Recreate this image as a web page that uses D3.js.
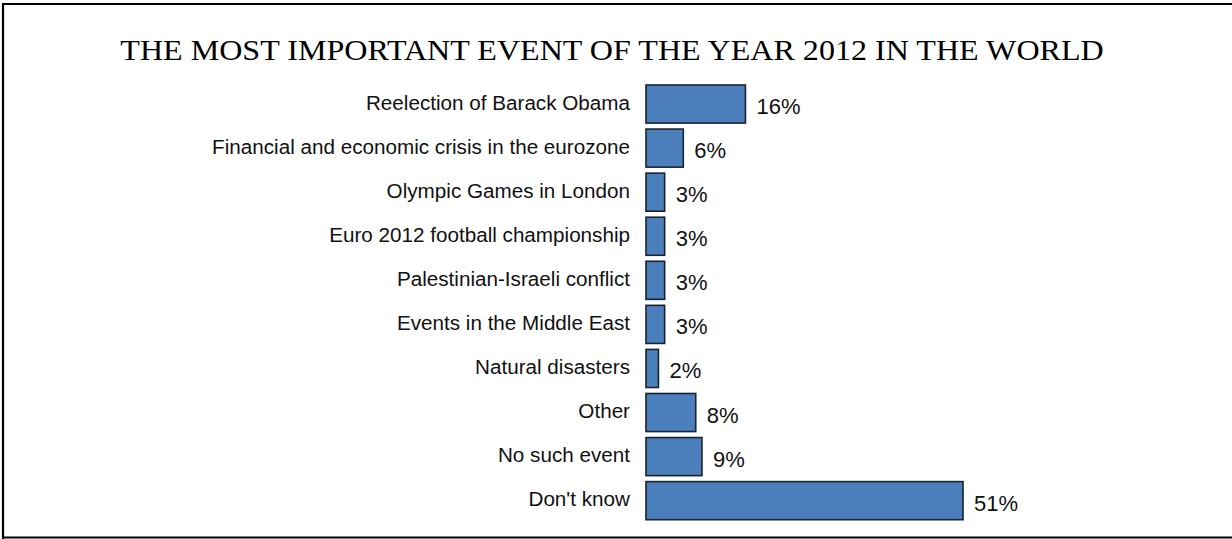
<!DOCTYPE html>
<html><head><meta charset="utf-8">
<script src="https://cdn.jsdelivr.net/npm/d3@7"></script>
<style>body{margin:0;background:#fff;overflow:hidden}svg{display:block}</style>
</head><body>
<script>
const categories = ["Reelection of Barack Obama","Financial and economic crisis in the eurozone","Olympic Games in London","Euro 2012 football championship","Palestinian-Israeli conflict","Events in the Middle East","Natural disasters","Other","No such event","Don't know"];
const values = [16,6,3,3,3,3,2,8,9,51];
const title = "THE MOST IMPORTANT EVENT OF THE YEAR 2012 IN THE WORLD";

const W = 1232, H = 539;
const svg = d3.select("body").append("svg").attr("width", W).attr("height", H);
svg.append("rect").attr("width", W).attr("height", H).attr("fill", "#fff");
// frame (left, top, bottom)
svg.append("path").attr("d", `M3,${H} L3,4 L${W+5},4`).attr("fill","none").attr("stroke","#000").attr("stroke-width",2.2);
svg.append("line").attr("x1",2).attr("x2",W+5).attr("y1",537.5).attr("y2",537.5).attr("stroke","#000").attr("stroke-width",2);

svg.append("text").attr("transform","translate(612,60) scale(1.07,1)").attr("text-anchor","middle")
  .attr("font-family","'Liberation Serif','Times New Roman',serif").attr("font-size",30)
  .attr("fill","#000").text(title);

const x = d3.scaleLinear().domain([0, 51]).range([646, 963]);
const y = d3.scaleBand().domain(categories).range([82, 522.7]).paddingInner(0.136).paddingOuter(0.068);

const g = svg.append("g");
g.selectAll("rect.bar").data(values).join("rect").attr("class","bar")
  .attr("x", x(0)).attr("y", (d,i)=>y(categories[i]))
  .attr("width", d=>x(d)-x(0)).attr("height", y.bandwidth())
  .attr("fill","#4a7fbc").attr("stroke","#1a2330").attr("stroke-width",1.6);

const yAxis = d3.axisLeft(y).tickSize(0).tickPadding(0);
const ax = svg.append("g").attr("transform","translate(630,0)").call(yAxis);
ax.select(".domain").remove();
ax.selectAll("text").attr("x",0).attr("dy",0).attr("y",5.5)
  .attr("transform","scale(1.06,1)")
  .attr("font-family","'Liberation Sans',Arial,sans-serif").attr("font-size",19.5).attr("fill","#111");

g.selectAll("text.val").data(values).join("text").attr("class","val")
  .attr("x", d=>x(d)+11).attr("y",(d,i)=>y(categories[i])+y.bandwidth()/2+10)
  .attr("font-family","'Liberation Sans',Arial,sans-serif").attr("font-size",22).attr("fill","#111")
  .text(d=>d+"%");
</script>
</body></html>
